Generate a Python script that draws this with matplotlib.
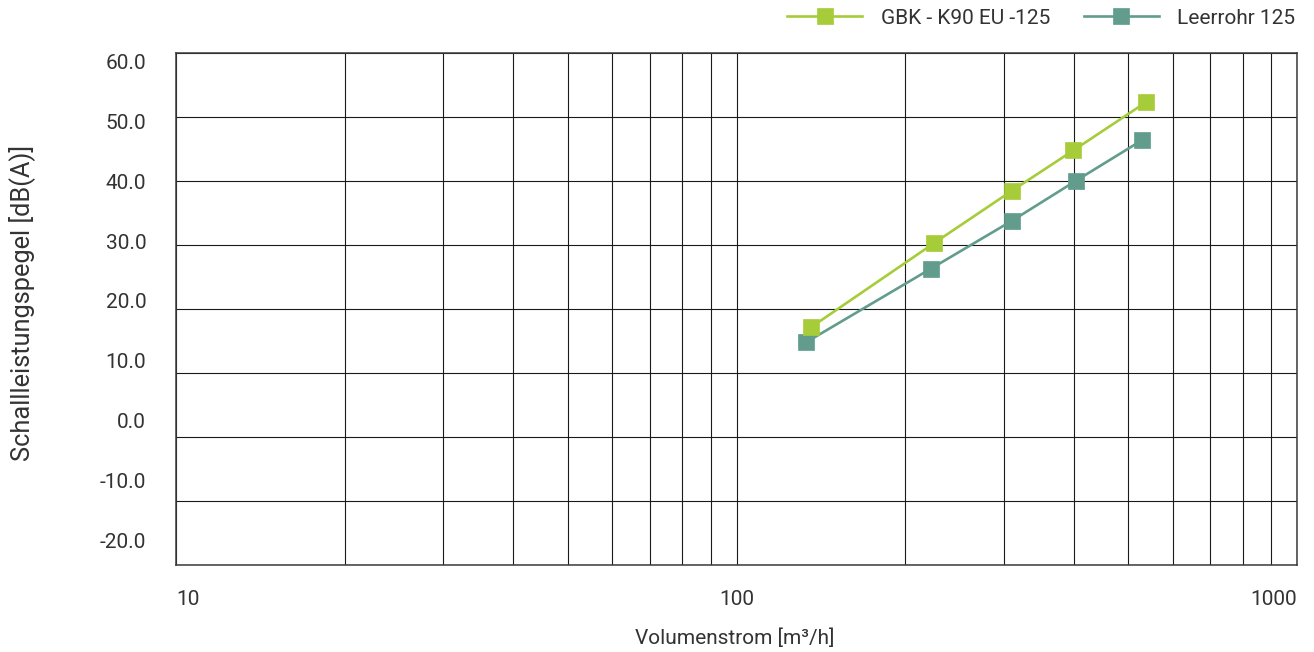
import numpy as np
import matplotlib
matplotlib.use("Agg")
import matplotlib.pyplot as plt
from matplotlib.ticker import FixedLocator, NullFormatter

# ---- data ----
series_names = ["GBK - K90 EU -125", "Leerrohr 125"]
gbk_x = [136, 225, 310, 399, 537]
gbk_y = [17.1, 30.2, 38.4, 44.7, 52.2]
leer_x = [133, 222, 310, 404, 529]
leer_y = [14.7, 26.2, 33.7, 40.0, 46.3]
y_tick_labels = ["60.0", "50.0", "40.0", "30.0", "20.0", "10.0", "0.0", "-10.0", "-20.0"]
x_tick_values = [10, 100, 1000]
x_tick_labels = ["10", "100", "1000"]
x_label = "Volumenstrom [m³/h]"
y_label = "Schallleistungspegel [dB(A)]"

GREEN = "#a6cd39"
TEAL = "#629c8d"
TXT = "#333333"

plt.rcParams['font.family'] = ['Roboto', 'DejaVu Sans']

W, H = 1314, 652
fig = plt.figure(figsize=(W / 100, H / 100), dpi=100)
ax = fig.add_axes([176 / W, 1 - 564.5 / H, (1297 - 176) / W, (564.5 - 52.5) / H])

ax.set_xscale('log')
ax.set_xlim(10, 1000)
ax.set_ylim(-20, 60)

l1, = ax.plot(gbk_x, gbk_y, color=GREEN, lw=1.9, marker='s', ms=11.5,
              mfc=GREEN, mec=GREEN, mew=0.5, zorder=4, label=series_names[0])
l2, = ax.plot(leer_x, leer_y, color=TEAL, lw=1.9, marker='s', ms=11.5,
              mfc=TEAL, mec=TEAL, mew=0.5, zorder=3, label=series_names[1])

FS = 15
# grid: y every 10, x at log minor positions
ax.yaxis.set_major_locator(FixedLocator(np.arange(-20, 61, 10)))
ax.yaxis.set_major_formatter(NullFormatter())
ax.tick_params(axis='y', which='major', length=0)
# y labels (spaced as in the original)
lab_pos = np.linspace(58.65, -16.3, len(y_tick_labels))
ax.set_yticks(lab_pos, y_tick_labels, minor=True)
ax.tick_params(axis='y', which='minor', length=0, pad=21.5, labelsize=FS, labelcolor=TXT)

grid_x = [v * m for v in (10, 100) for m in range(1, 10)] + [1000]
ax.xaxis.set_minor_locator(FixedLocator(grid_x))
ax.xaxis.set_minor_formatter(NullFormatter())
ax.set_xticks(x_tick_values, x_tick_labels)
ax.tick_params(axis='x', which='both', length=0)
ax.tick_params(axis='x', which='major', pad=18.5, labelsize=FS, labelcolor=TXT)
xt = ax.get_xticklabels()
xt[0].set_ha('left')
xt[-1].set_ha('right')

ax.grid(True, which='both', axis='x', color='#1a1a1a', lw=0.8)
ax.grid(True, which='major', axis='y', color='#1a1a1a', lw=0.8)
ax.set_axisbelow(True)
for s in ax.spines.values():
    s.set_color('#3a3a3a')
    s.set_linewidth(1.1)

fig.text(22 / W, 1 - 303 / H, y_label, rotation=90, ha='center', va='center',
         fontsize=18.3, color=TXT)
fig.text(735 / W, 1 - 638 / H, x_label, ha='center', va='center',
         fontsize=FS, color=TXT)

fig.legend(handles=[l1, l2], loc='center right', bbox_to_anchor=(1306 / W, 1 - 18 / H),
           ncol=2, frameon=False, fontsize=FS, handlelength=3.6, handletextpad=0.9,
           columnspacing=1.6, borderpad=0, labelcolor=TXT)

fig.savefig("out.png", dpi=100)
